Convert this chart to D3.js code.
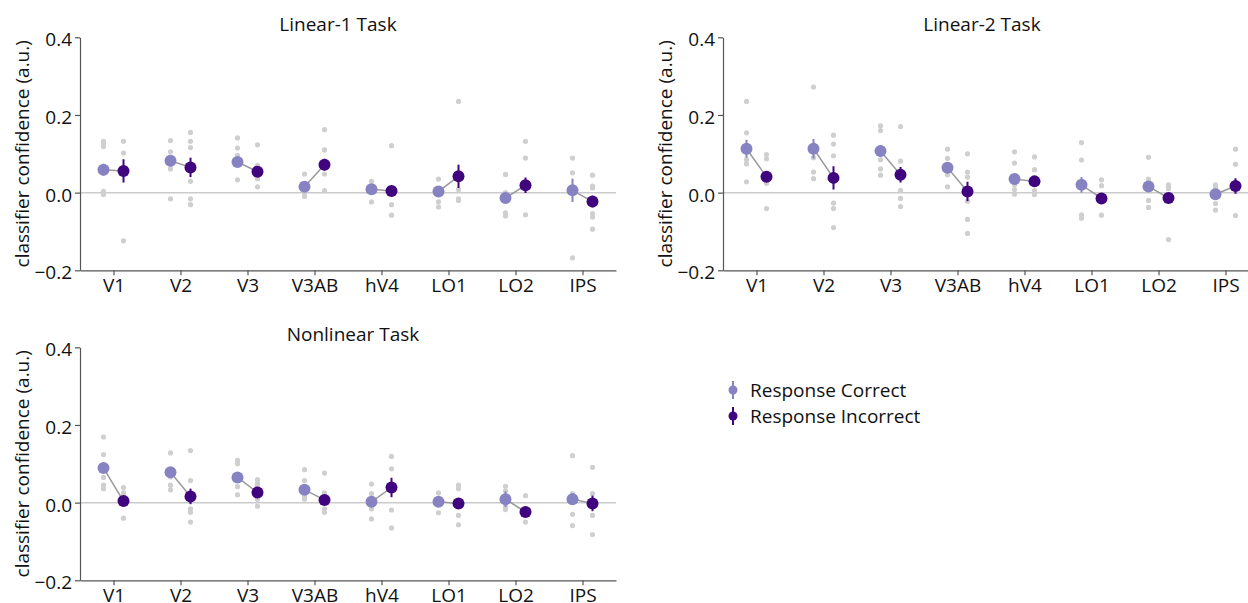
<!DOCTYPE html>
<html>
<head>
<meta charset="utf-8">
<script src="https://cdn.jsdelivr.net/npm/d3@7"></script>
<style>
  body { margin: 0; background: #fff; }
  text { font-family: "Open Sans", sans-serif; fill: #111; }
</style>
</head>
<body>
<script>
var regions = ['V1', 'V2', 'V3', 'V3AB', 'hV4', 'LO1', 'LO2', 'IPS'];
var yTicks = [0.4, 0.2, 0, -0.2];
var legendLabels = ['Response Correct', 'Response Incorrect'];

// Linear-1 task
var lin1CorrectMean = [0.059, 0.082, 0.079, 0.015, 0.009, 0.003, -0.014, 0.006];
var lin1CorrectErr = [0.015, 0.012, 0.008, 0.008, 0.008, 0.006, 0.006, 0.03];
var lin1IncorrectMean = [0.056, 0.065, 0.054, 0.072, 0.004, 0.042, 0.019, -0.023];
var lin1IncorrectErr = [0.03, 0.025, 0.008, 0.015, 0.012, 0.03, 0.02, 0.015];
var lin1CorrectDots = [
  [0.132, 0.128, 0.119, 0.003, -0.005],
  [0.134, 0.105, 0.072, 0.061, -0.016],
  [0.141, 0.115, 0.096, 0.085, 0.033],
  [0.048, 0.0, -0.01],
  [0.029, -0.024],
  [0.035, -0.024, -0.037],
  [0.047, 0.0, -0.052, -0.06],
  [0.089, 0.051, -0.168]
];
var lin1IncorrectDots = [
  [0.132, 0.102, -0.124],
  [0.155, 0.132, 0.116, 0.029, -0.016, -0.031],
  [0.123, 0.07, 0.036, 0.015],
  [0.162, 0.11, 0.048, 0.005],
  [0.121, -0.031, -0.058],
  [0.235, 0.008, -0.016, -0.02],
  [0.132, 0.089, -0.057],
  [0.045, 0.017, 0.012, -0.054, -0.063, -0.094]
];

// Linear-2 task
var lin2CorrectMean = [0.113, 0.113, 0.107, 0.064, 0.035, 0.02, 0.016, -0.004];
var lin2CorrectErr = [0.023, 0.025, 0.015, 0.008, 0.008, 0.02, 0.008, 0.008];
var lin2IncorrectMean = [0.041, 0.038, 0.046, 0.003, 0.029, -0.015, -0.014, 0.017];
var lin2IncorrectErr = [0.01, 0.03, 0.02, 0.025, 0.008, 0.008, 0.01, 0.02];
var lin2CorrectDots = [
  [0.235, 0.154, 0.085, 0.074, 0.028],
  [0.272, 0.09, 0.053, 0.036],
  [0.172, 0.16, 0.085, 0.061, 0.045],
  [0.112, 0.088, 0.046, 0.015],
  [0.105, 0.076, 0.02, 0.008, -0.004],
  [0.129, 0.084, -0.057, -0.066],
  [0.091, 0.035, -0.02, -0.038],
  [0.02, 0.012, -0.028, -0.045]
];
var lin2IncorrectDots = [
  [0.098, 0.087, 0.03, 0.024, -0.041],
  [0.148, 0.125, 0.095, -0.027, -0.041, -0.09],
  [0.17, 0.081, 0.006, -0.015, -0.036],
  [0.1, 0.053, 0.04, -0.022, -0.069, -0.105],
  [0.092, 0.059, 0.005, -0.005],
  [0.033, 0.018, -0.058],
  [0.02, 0.016, 0.01, -0.121],
  [0.112, 0.073, -0.059]
];

// Nonlinear task
var nonlinCorrectMean = [0.089, 0.078, 0.065, 0.033, 0.002, 0.002, 0.009, 0.009];
var nonlinCorrectErr = [0.012, 0.008, 0.008, 0.008, 0.008, 0.006, 0.02, 0.015];
var nonlinIncorrectMean = [0.004, 0.016, 0.026, 0.007, 0.039, -0.002, -0.024, -0.002];
var nonlinIncorrectErr = [0.008, 0.02, 0.008, 0.008, 0.025, 0.006, 0.008, 0.02];
var nonlinCorrectDots = [
  [0.169, 0.124, 0.065, 0.045, 0.036],
  [0.128, 0.066, 0.045, 0.033],
  [0.109, 0.1, 0.041, 0.02],
  [0.085, 0.057, 0.016, 0.009],
  [0.048, 0.023, -0.016, -0.042],
  [0.025, -0.026],
  [0.042, 0.03, -0.009, -0.018],
  [0.121, 0.023, -0.03, -0.059]
];
var nonlinIncorrectDots = [
  [0.039, 0.025, 0.016, -0.04],
  [0.134, 0.057, -0.016, -0.025, -0.05],
  [0.059, 0.05, 0.042, 0.008, -0.009],
  [0.076, 0.025, -0.016, -0.025],
  [0.119, 0.087, -0.019, -0.065],
  [0.045, 0.036, -0.033, -0.057],
  [0.018, -0.05],
  [0.091, 0.023, -0.033, -0.082]
];

var colCorrect = '#8783c3';
var colIncorrect = '#3f047e';
var colDot = '#cfcfcf';
var fontSize = '19px';

var svg = d3.select('body').append('svg')
  .attr('width', 1248)
  .attr('height', 603);

function drawPanel(opts) {
  var x = d3.scalePoint().domain(regions).range([opts.left, opts.left + 536]).padding(0.5);
  var y = d3.scaleLinear().domain([-0.2, 0.4]).range([opts.top + 233, opts.top]);
  var off = 10;
  var g = svg.append('g');

  g.append('text')
    .attr('x', opts.titleX)
    .attr('y', opts.top - 6)
    .attr('text-anchor', 'middle')
    .style('font-size', fontSize)
    .text(opts.title);

  g.append('text')
    .attr('transform', 'translate(' + (opts.left - 51) + ',' + y(0.1) + ') rotate(-90)')
    .attr('text-anchor', 'middle')
    .style('font-size', fontSize)
    .text('classifier confidence (a.u.)');

  // zero line
  g.append('line')
    .attr('x1', opts.left).attr('x2', opts.left + 536)
    .attr('y1', y(0)).attr('y2', y(0))
    .attr('stroke', '#cbcbcb').attr('stroke-width', 1.5);

  var yAxis = g.append('g')
    .attr('transform', 'translate(' + opts.left + ',0)')
    .call(d3.axisLeft(y).tickValues(yTicks).tickFormat(d3.format('.1f')).tickSize(5).tickSizeOuter(0));
  var xAxis = g.append('g')
    .attr('transform', 'translate(0,' + y(-0.2) + ')')
    .call(d3.axisBottom(x).tickSize(5).tickSizeOuter(0));
  [yAxis, xAxis].forEach(function(a) {
    a.selectAll('path, line').attr('stroke', '#555').attr('stroke-width', 1.2);
    a.selectAll('text').style('font-size', fontSize).style('font-family', '"Open Sans", sans-serif').attr('fill', '#111');
  });
  yAxis.selectAll('text').attr('dy', '0.45em');

  // subject dots
  regions.forEach(function(r, i) {
    g.selectAll(null).data(opts.cDots[i]).enter().append('circle')
      .attr('cx', x(r) - off).attr('cy', function(d) { return y(d); })
      .attr('r', 2.6).attr('fill', colDot);
    g.selectAll(null).data(opts.iDots[i]).enter().append('circle')
      .attr('cx', x(r) + off).attr('cy', function(d) { return y(d); })
      .attr('r', 2.6).attr('fill', colDot);
  });

  // connectors
  g.selectAll(null).data(regions).enter().append('line')
    .attr('x1', function(d) { return x(d) - off; })
    .attr('x2', function(d) { return x(d) + off; })
    .attr('y1', function(d, i) { return y(opts.cMean[i]); })
    .attr('y2', function(d, i) { return y(opts.iMean[i]); })
    .attr('stroke', '#999').attr('stroke-width', 1.5);

  function means(vals, errs, dx, col) {
    g.selectAll(null).data(regions).enter().append('line')
      .attr('x1', function(d) { return x(d) + dx; })
      .attr('x2', function(d) { return x(d) + dx; })
      .attr('y1', function(d, i) { return y(vals[i] - errs[i]); })
      .attr('y2', function(d, i) { return y(vals[i] + errs[i]); })
      .attr('stroke', col).attr('stroke-width', 2);
    g.selectAll(null).data(regions).enter().append('circle')
      .attr('cx', function(d) { return x(d) + dx; })
      .attr('cy', function(d, i) { return y(vals[i]); })
      .attr('r', 6).attr('fill', col);
  }
  means(opts.cMean, opts.cErr, -off, colCorrect);
  means(opts.iMean, opts.iErr, off, colIncorrect);
}

drawPanel({ left: 80, top: 37.3, titleX: 338, title: 'Linear-1 Task',
  cMean: lin1CorrectMean, cErr: lin1CorrectErr, iMean: lin1IncorrectMean, iErr: lin1IncorrectErr,
  cDots: lin1CorrectDots, iDots: lin1IncorrectDots });
drawPanel({ left: 723, top: 37.3, titleX: 982, title: 'Linear-2 Task',
  cMean: lin2CorrectMean, cErr: lin2CorrectErr, iMean: lin2IncorrectMean, iErr: lin2IncorrectErr,
  cDots: lin2CorrectDots, iDots: lin2IncorrectDots });
drawPanel({ left: 80, top: 347.3, titleX: 353, title: 'Nonlinear Task',
  cMean: nonlinCorrectMean, cErr: nonlinCorrectErr, iMean: nonlinIncorrectMean, iErr: nonlinIncorrectErr,
  cDots: nonlinCorrectDots, iDots: nonlinIncorrectDots });

// legend
var legend = svg.append('g').attr('transform', 'translate(733,390)');
legendLabels.forEach(function(lbl, i) {
  var col = i === 0 ? colCorrect : colIncorrect;
  var row = legend.append('g').attr('transform', 'translate(0,' + (i * 26) + ')');
  row.append('line').attr('y1', -9).attr('y2', 9).attr('stroke', col).attr('stroke-width', 2);
  row.append('circle').attr('r', 4.5).attr('fill', col);
  row.append('text').attr('x', 17).attr('y', 6.5).style('font-size', fontSize).text(lbl);
});
</script>
</body>
</html>
